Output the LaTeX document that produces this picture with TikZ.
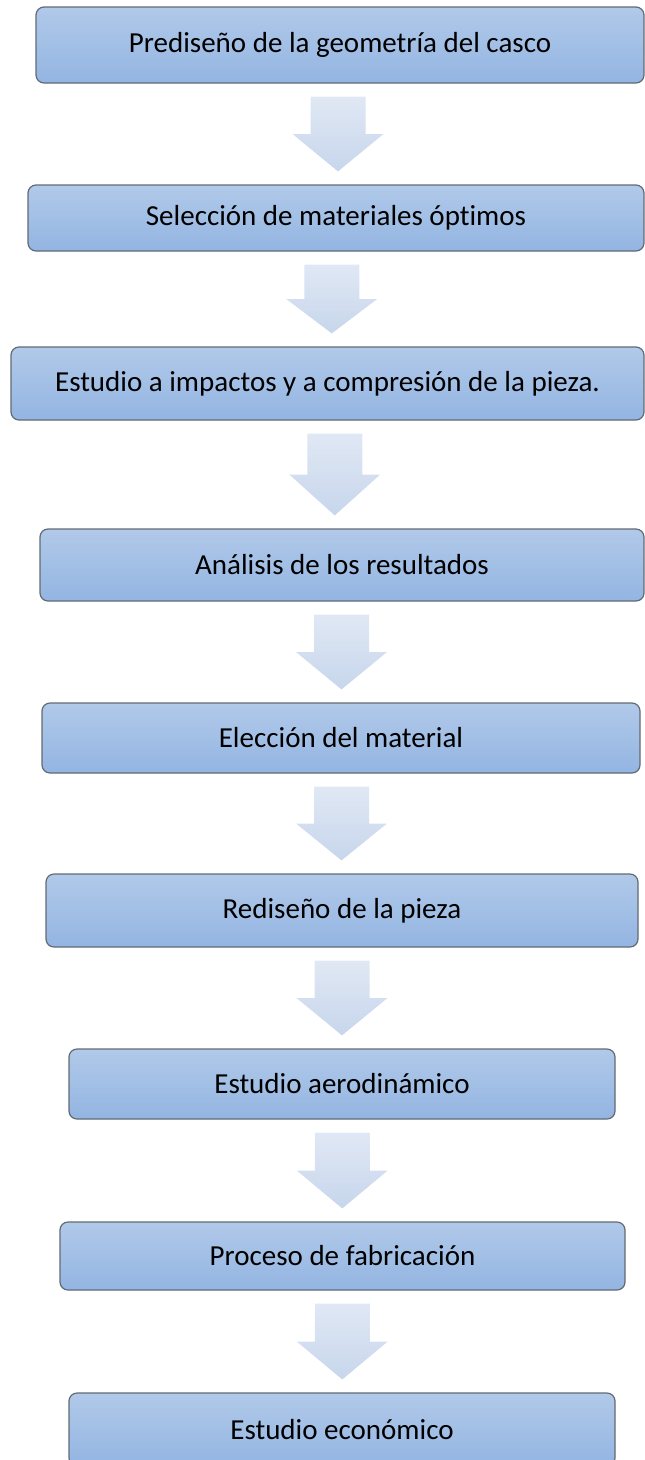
\documentclass[tikz,border=0pt]{standalone}
\usepackage{fontspec}
\setmainfont{Carlito}[Ligatures=NoCommon]
\usetikzlibrary{calc}

\begin{document}
\begin{tikzpicture}[x=1pt, y=1pt, font=\fontsize{29}{34}\selectfont]
        % colores (estilo SmartArt)
        \definecolor{boxtop}{RGB}{177,201,233}
        \definecolor{boxbot}{RGB}{147,181,226}
        \definecolor{boxline}{RGB}{98,106,116}
        \definecolor{arrtop}{RGB}{224,232,244}
        \definecolor{arrbot}{RGB}{199,214,236}

        % estilos comunes
        \tikzset{
            stepbox/.style={draw=boxline, line width=1.2pt, rounded corners=8pt,
                top color=boxtop, bottom color=boxbot, inner sep=0pt, text=black},
            flow/.style={top color=arrtop, bottom color=arrbot}
        }

        \useasboundingbox (0,0) rectangle (645,-1460);

        % --- pasos del proceso ---
        \node[stepbox, minimum width=608pt, minimum height=76pt] (prediseno) at (340,-45) {Prediseño de la geometría del casco};
        \node[stepbox, minimum width=616pt, minimum height=66pt] (seleccion) at (336,-218) {Selección de materiales óptimos};
        \node[stepbox, minimum width=633pt, minimum height=73pt] (impactos) at (327.5,-383.5) {Estudio a impactos y a compresión de la pieza.};
        \node[stepbox, minimum width=604pt, minimum height=72pt] (analisis) at (342,-565) {Análisis de los resultados};
        \node[stepbox, minimum width=598pt, minimum height=70pt] (eleccion) at (341,-738) {Elección del material};
        \node[stepbox, minimum width=592pt, minimum height=73pt] (rediseno) at (342,-910.5) {Rediseño de la pieza};
        \node[stepbox, minimum width=546pt, minimum height=70pt] (aero) at (342,-1084) {Estudio aerodinámico};
        \node[stepbox, minimum width=565pt, minimum height=68pt] (fabricacion) at (342.5,-1256) {Proceso de fabricación};
        \node[stepbox, minimum width=546pt, minimum height=73pt] (economico) at (342,-1429.5) {Estudio económico};

        % --- flechas de bloque entre pasos ---
        \foreach \a/\b in {prediseno/seleccion, seleccion/impactos, impactos/analisis,
                analisis/eleccion, eleccion/rediseno, rediseno/aero, aero/fabricacion,
                fabricacion/economico} {
            \path[flow] let \p1=(\a.south), \p2=(\b.north), \p3=($(\a.south)!.5!(\b.north)$) in
                ({\x3-27.5pt},{\y1-13pt}) -- ({\x3+27.5pt},{\y1-13pt}) -- ({\x3+27.5pt},\y3)
                -- ({\x3+45.5pt},\y3) -- (\x3,{\y2+13pt}) -- ({\x3-45.5pt},\y3)
                -- ({\x3-27.5pt},\y3) -- cycle;
        }
\end{tikzpicture}
\end{document}
